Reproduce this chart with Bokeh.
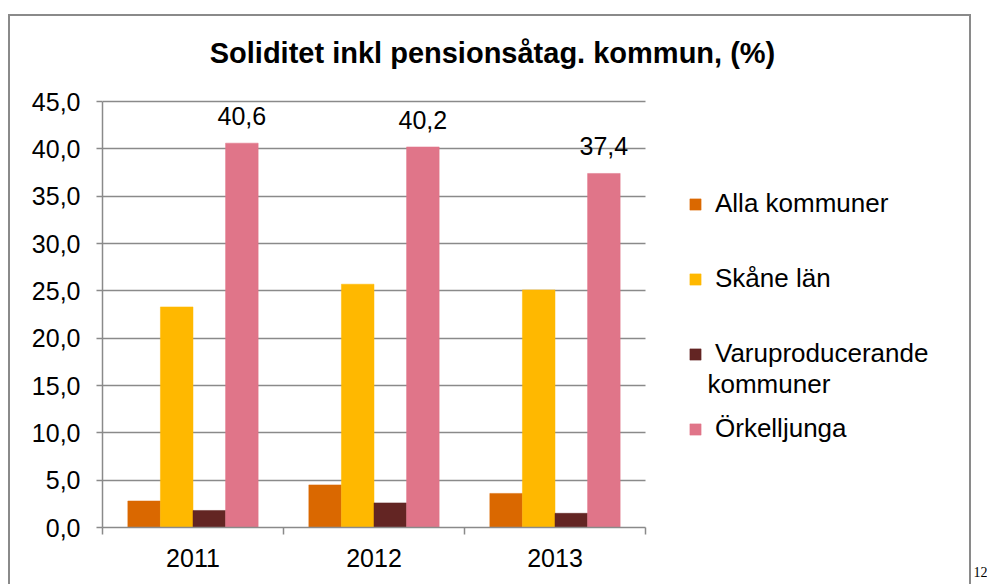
from bokeh.plotting import figure
from bokeh.models import (ColumnDataSource, Range1d, LinearAxis, FixedTicker, Title,
                          Legend, LegendItem, Label, LabelSet, Grid)
from bokeh.core.properties import value
from bokeh.transform import dodge
from bokeh.embed import file_html
from bokeh.resources import INLINE

# ---------------- data ----------------
years = ["2011", "2012", "2013"]
series_names = ["Alla kommuner", "Skåne län", "Varuproducerande kommuner", "Örkelljunga"]
alla_kommuner = [2.8, 4.5, 3.6]
skane_lan = [23.3, 25.7, 25.1]
varuproducerande = [1.8, 2.6, 1.5]
orkelljunga = [40.6, 40.2, 37.4]
y_ticks = [0, 5, 10, 15, 20, 25, 30, 35, 40, 45]
y_tick_labels = ["0,0", "5,0", "10,0", "15,0", "20,0", "25,0", "30,0", "35,0", "40,0", "45,0"]
title_text = "Soliditet inkl pensionsåtag. kommun, (%)"
page_number = "12"

# ---------------- style / layout ----------------
colors = ["#DA6800", "#FFB800", "#632523", "#E07589"]
GRAY = "#8a8a8a"
FONT = "Liberation Sans"
W, H = 987, 584
LEFT = 102            # y axis position (px)
BOTTOM = 527          # x axis position (px)
CAT_W = 181           # px per category
PX_PER_UNIT = 426 / 45
N = len(years)
YMAX = 45

p = figure(x_range=Range1d(0, (W - LEFT) / CAT_W), y_range=Range1d(0, BOTTOM / PX_PER_UNIT),
           width=W, height=H, output_backend="svg", toolbar_location=None, tools="",
           x_axis_location=None, y_axis_location=None)
p.min_border_left = LEFT
p.min_border_right = 0
p.min_border_top = 0
p.min_border_bottom = H - BOTTOM
p.outline_line_color = None
p.background_fill_alpha = 0
p.border_fill_alpha = 0
for g in p.grid:
    g.visible = False

# outer chart-area frame (decoration, drawn behind the transparent canvas)
p.styles = {
    "background-color": "white",
    "background-image": ", ".join([f"linear-gradient({GRAY}, {GRAY})"] * 3),
    "background-size": "2px 600px, 963px 2px, 2px 600px",
    "background-position": "8px 14px, 8px 14px, 969px 14px",
    "background-repeat": "no-repeat",
}

# y axis
yax = LinearAxis(ticker=FixedTicker(ticks=y_ticks, minor_ticks=[]), bounds=(0, YMAX),
                 major_label_overrides={t: l for t, l in zip(y_ticks, y_tick_labels)},
                 axis_line_color=GRAY, axis_line_width=1.5,
                 major_tick_line_color=GRAY, major_tick_line_width=1.5,
                 major_tick_in=0, major_tick_out=6,
                 minor_tick_line_color=None,
                 major_label_text_font=FONT, major_label_text_font_size="25px",
                 major_label_text_color="black", major_label_standoff=16)
p.add_layout(yax, "left")
p.add_layout(Grid(dimension=1, ticker=yax.ticker, cross_bounds=(0, N),
                  grid_line_color=GRAY, grid_line_width=1.5))

# x axis: labels at category centres, tick marks at category boundaries
centers = [i + 0.5 for i in range(N)]
bounds = list(range(N + 1))
xax = LinearAxis(ticker=FixedTicker(ticks=centers, minor_ticks=bounds), bounds=(0, N),
                 major_label_overrides={c: y for c, y in zip(centers, years)},
                 axis_line_color=GRAY, axis_line_width=1.5,
                 major_tick_line_color=None, major_tick_in=0, major_tick_out=7,
                 minor_tick_line_color=GRAY, minor_tick_line_width=1.5,
                 minor_tick_in=0, minor_tick_out=7,
                 major_label_text_font=FONT, major_label_text_font_size="25px",
                 major_label_text_color="black", major_label_standoff=14)
p.add_layout(xax, "below")

# bars
src = ColumnDataSource(dict(
    years=years, xc=centers,
    alla=alla_kommuner, skane=skane_lan, varu=varuproducerande, ork=orkelljunga,
    ork_label=[f"{v:.1f}".replace(".", ",") for v in orkelljunga],
))
keys = ["alla", "skane", "varu", "ork"]
offsets = [-0.27, -0.09, 0.09, 0.27]
renderers = []
for k, off, c in zip(keys, offsets, colors):
    r = p.vbar(x=dodge("xc", off), top=k, width=0.18, source=src,
               fill_color=c, line_color=c, line_width=0.5)
    renderers.append(r)

# data labels (Örkelljunga)
p.add_layout(LabelSet(x=dodge("xc", 0.27), y="ork", text="ork_label",
                      source=src, y_offset=27, text_align="center", text_baseline="middle",
                      text_font=value(FONT), text_font_size="25px", text_color="black"))

# legend
first_lines = [n if i != 2 else n.split(" ")[0] for i, n in enumerate(series_names)]
legend = Legend(items=[LegendItem(label=l, renderers=[r]) for l, r in zip(first_lines, renderers)],
                location=(688 - LEFT, 83), orientation="vertical",
                glyph_width=14, glyph_height=14, label_height=14, spacing=44,
                padding=0, margin=0, label_standoff=13,
                border_line_color=None, background_fill_alpha=0,
                label_text_font=FONT, label_text_font_size="26px", label_text_color="black")
p.add_layout(legend, "center")

# helpers: page pixel -> data coordinates
def dx(px):
    return (px - LEFT) / CAT_W

def dy(py):
    return (BOTTOM - py) / PX_PER_UNIT

p.add_layout(Label(x=dx(707), y=dy(383),
                   text=" ".join(series_names[2].split(" ")[1:]),
                   text_align="left", text_baseline="middle",
                   text_font=FONT, text_font_size="26px", text_color="black"))

# title
p.add_layout(Label(x=dx(492), y=dy(52), text=title_text,
                   text_align="center", text_baseline="middle", text_font=FONT,
                   text_font_style="bold", text_font_size="29px", text_color="black"))

# page number (below the plot, at the right edge)
p.add_layout(Title(text=page_number, align="left", offset=973 - LEFT, standoff=-9,
                   text_font="Liberation Serif", text_font_size="14px",
                   text_font_style="normal", text_color="black"), "below")

open("out.html", "w").write(file_html(p, INLINE))
